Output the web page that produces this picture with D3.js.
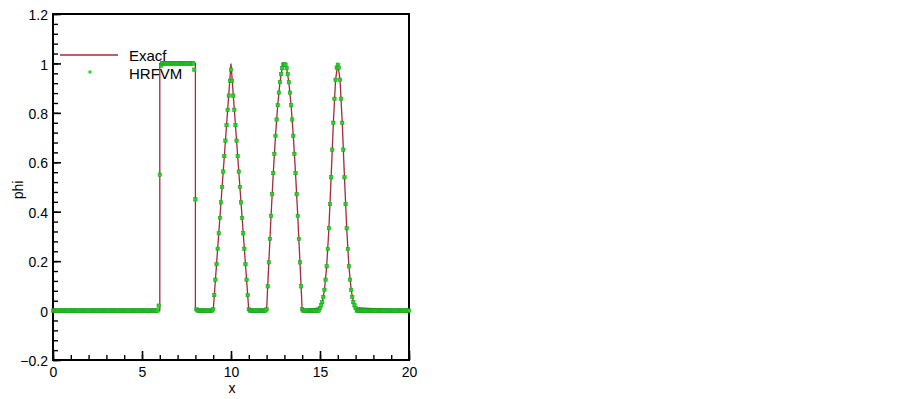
<!DOCTYPE html>
<html>
<head>
<meta charset="utf-8">
<script src="https://cdn.jsdelivr.net/npm/d3@7"></script>
<style>
  body { margin: 0; background: #fff; }
  svg { display: block; }
  text { font-family: "Liberation Sans", Arial, sans-serif; }
</style>
</head>
<body>
<svg id="chart" width="903" height="399"></svg>
<script>
  // exact solution, key points
  var exactX = [0, 6, 6, 8, 8, 9, 10, 11,
    12, 12.125, 12.25, 12.375, 12.5, 12.625, 12.75, 12.875, 13, 13.125, 13.25, 13.375, 13.5, 13.625, 13.75, 13.875, 14,
    15, 15.125, 15.25, 15.375, 15.5, 15.625, 15.75, 15.875, 16, 16.125, 16.25, 16.375, 16.5, 16.625, 16.75, 16.875, 17,
    20];
  var exactY = [0, 0, 1, 1, 0, 0, 1, 0,
    0, 0.195, 0.383, 0.556, 0.707, 0.831, 0.924, 0.981, 1, 0.981, 0.924, 0.831, 0.707, 0.556, 0.383, 0.195, 0,
    0.012, 0.034, 0.084, 0.179, 0.333, 0.539, 0.76, 0.934, 1, 0.934, 0.76, 0.539, 0.333, 0.179, 0.084, 0.034, 0.012,
    0];

  // HRFVM cell values, grid step dx starting at x = 0 (one row per unit of x)
  var dx = 0.0625;
  var hrfvm = [
    0,0,0,0,0,0,0,0,0,0,0,0,0,0,0,0,
    0,0,0,0,0,0,0,0,0,0,0,0,0,0,0,0,
    0,0,0,0,0,0,0,0,0,0,0,0,0,0,0,0,
    0,0,0,0,0,0,0,0,0,0,0,0,0,0,0,0,
    0,0,0,0,0,0,0,0,0,0,0,0,0,0,0,0,
    0,0,0,0,0,0,0,0,0,0,0,0,0,0,0,0.02,
    0.55,0.99,1,1,1,1,1,1,1,1,1,1,1,1,1,1,
    1,1,1,1,1,1,1,1,1,1,1,1,1,1,1,0.975,
    0.45,0.005,0,0,0,0,0,0,0,0,0,0,0,0,0,0,
    0.005,0.0625,0.125,0.1875,0.25,0.3125,0.375,0.4375,0.5,0.5625,0.625,0.6875,0.75,0.8125,0.87,0.93,
    0.975,0.93,0.87,0.8125,0.75,0.6875,0.625,0.5625,0.5,0.4375,0.375,0.3125,0.25,0.1875,0.125,0.0625,
    0.005,0,0,0,0,0,0,0,0,0,0,0,0,0,0,0,
    0.005,0.098,0.195,0.29,0.383,0.471,0.556,0.634,0.707,0.773,0.831,0.882,0.924,0.957,0.981,0.995,
    0.998,0.995,0.981,0.957,0.924,0.882,0.831,0.773,0.707,0.634,0.556,0.471,0.383,0.29,0.195,0.098,
    0.005,0,0,0,0,0,0,0,0,0,0,0,0,0,0,0,
    0.01,0.021,0.034,0.055,0.084,0.125,0.179,0.249,0.333,0.431,0.539,0.651,0.76,0.857,0.934,0.983,
    0.995,0.983,0.934,0.857,0.76,0.651,0.539,0.431,0.333,0.249,0.179,0.125,0.084,0.055,0.034,0.021,
    0.01,0,0,0,0,0,0,0,0,0,0,0,0,0,0,0,
    0,0,0,0,0,0,0,0,0,0,0,0,0,0,0,0,
    0,0,0,0,0,0,0,0,0,0,0,0,0,0,0,0,
    0
  ];

  var xMajor = [0, 5, 10, 15, 20];
  var yMajor = [-0.2, 0, 0.2, 0.4, 0.6, 0.8, 1, 1.2];
  var legendNames = ["Exacf", "HRFVM"];

  var svg = d3.select('#chart');
  var x = d3.scaleLinear().domain([0, 20]).range([53, 409]);
  var y = d3.scaleLinear().domain([-0.2, 1.2]).range([360, 14]);

  var lineColor = "#a52a3a";
  var dotColor = "#22d622";

  // minor ticks
  svg.append('g')
    .attr('transform', 'translate(0,' + y(-0.2) + ')')
    .call(d3.axisBottom(x).tickValues(d3.range(0, 21, 1)).tickSize(-5).tickFormat(''))
    .call(function(g) { g.select('.domain').remove(); })
    .selectAll('line').attr('stroke', '#000').attr('stroke-width', 1.4);
  svg.append('g')
    .attr('transform', 'translate(' + x(0) + ',0)')
    .call(d3.axisLeft(y).tickValues(d3.range(-0.2, 1.2001, 0.04)).tickSize(-5).tickFormat(''))
    .call(function(g) { g.select('.domain').remove(); })
    .selectAll('line').attr('stroke', '#000').attr('stroke-width', 1.4);

  // major ticks
  var gx = svg.append('g')
    .attr('transform', 'translate(0,' + y(-0.2) + ')')
    .call(d3.axisBottom(x).tickValues(xMajor).tickSize(-9).tickPadding(7).tickFormat(d3.format('d')));
  gx.select('.domain').remove();
  gx.selectAll('line').attr('stroke', '#000').attr('stroke-width', 1.6);
  gx.selectAll('text').attr('font-size', '14px').attr('fill', '#000')
    .attr('font-family', '"Liberation Sans", Arial, sans-serif');

  var gy = svg.append('g')
    .attr('transform', 'translate(' + x(0) + ',0)')
    .call(d3.axisLeft(y).tickValues(yMajor).tickSize(-8).tickPadding(5).tickFormat(function(d) {
      return d3.format('~g')(+d.toFixed(1));
    }));
  gy.select('.domain').remove();
  gy.selectAll('line').attr('stroke', '#000').attr('stroke-width', 1.6);
  gy.selectAll('text').attr('font-size', '14px').attr('fill', '#000').attr('dy', '0.4em')
    .attr('font-family', '"Liberation Sans", Arial, sans-serif');

  // frame
  svg.append('rect')
    .attr('x', x(0)).attr('y', y(1.2))
    .attr('width', x(20) - x(0)).attr('height', y(-0.2) - y(1.2))
    .attr('fill', 'none').attr('stroke', '#000').attr('stroke-width', 2);

  // axis titles
  svg.append('text').text('x')
    .attr('x', x(10) + 1).attr('y', 393)
    .attr('text-anchor', 'middle').attr('font-size', '14px');
  svg.append('text').text('phi')
    .attr('transform', 'translate(23,' + 190 + ') rotate(-90)')
    .attr('text-anchor', 'middle').attr('font-size', '14px');

  // legend (drawn under the data)
  svg.append('line')
    .attr('x1', 60).attr('x2', 118).attr('y1', 55).attr('y2', 55)
    .attr('stroke', lineColor).attr('stroke-width', 1.3);
  svg.append('rect')
    .attr('x', 88.5).attr('y', 70.5).attr('width', 3).attr('height', 3)
    .attr('fill', dotColor);
  svg.selectAll('.legend-text')
    .data(legendNames)
    .enter()
    .append('text')
    .attr('class', 'legend-text')
    .attr('x', 129)
    .attr('y', function(d, i) { return 61 + i * 18; })
    .attr('font-size', '15px')
    .text(function(d) { return d; });

  // exact curve
  var exactPts = exactX.map(function(v, i) { return [v, exactY[i]]; });
  svg.append('path')
    .datum(exactPts)
    .attr('fill', 'none')
    .attr('stroke', lineColor)
    .attr('stroke-width', 1.3)
    .attr('d', d3.line().x(function(d) { return x(d[0]); }).y(function(d) { return y(d[1]); }));

  // HRFVM markers
  svg.selectAll('.dot')
    .data(hrfvm)
    .enter()
    .append('rect')
    .attr('class', 'dot')
    .attr('x', function(d, i) { return x(i * dx) - 1.7; })
    .attr('y', function(d) { return y(d) - 1.7; })
    .attr('width', 3.4)
    .attr('height', 3.4)
    .attr('fill', dotColor)
    .attr('stroke', '#1c9a1c')
    .attr('stroke-width', 0.5);
</script>
</body>
</html>
